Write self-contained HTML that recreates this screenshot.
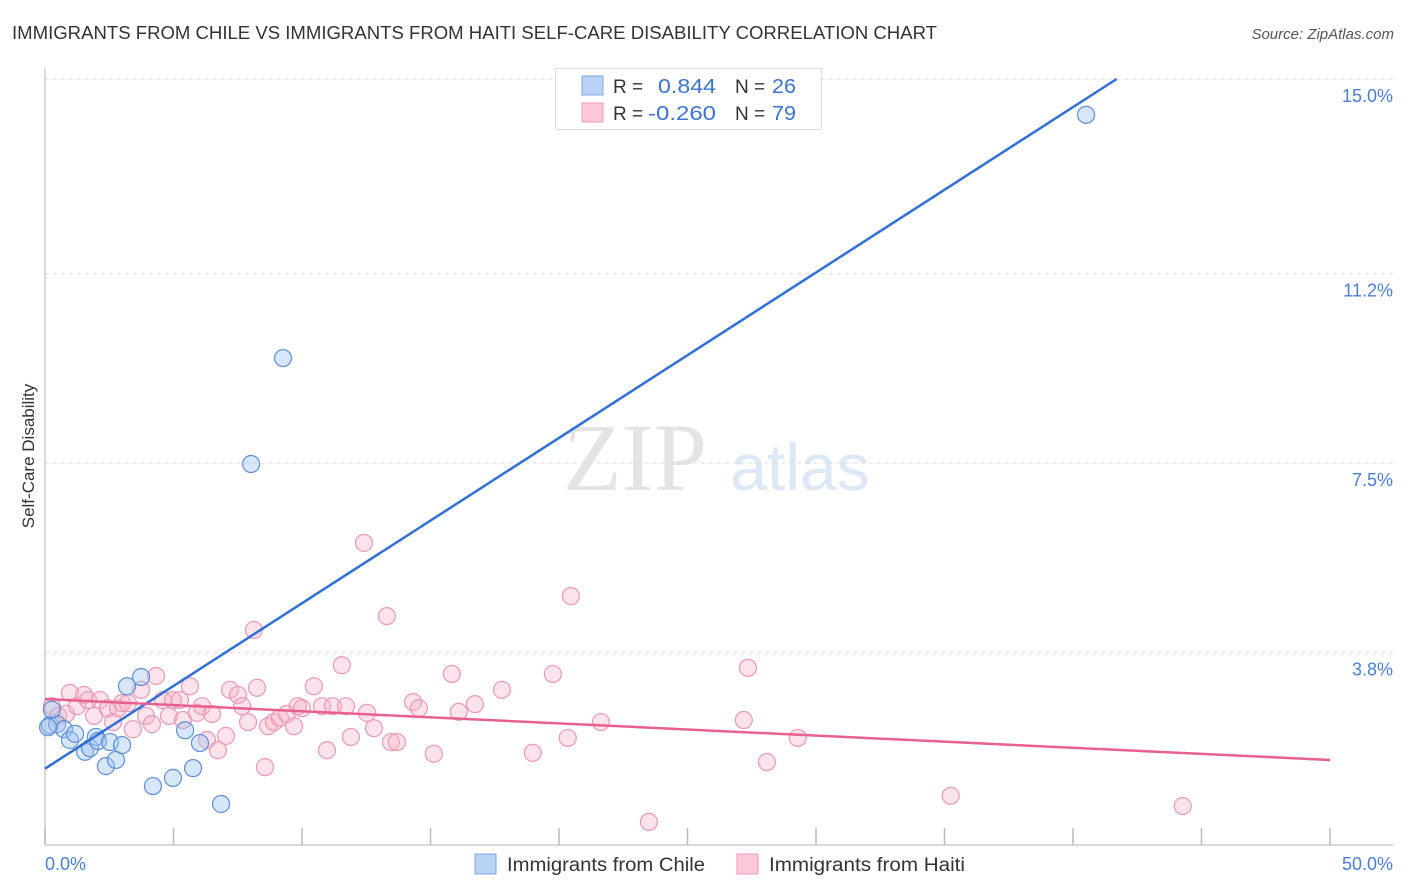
<!DOCTYPE html>
<html><head><meta charset="utf-8">
<style>
body{margin:0;background:#fff;font-family:"Liberation Sans",sans-serif;}
#wrap{position:relative;width:1406px;height:892px;overflow:hidden;}
</style></head>
<body>
<div id="wrap">
<svg id="chart" width="1406" height="892" xmlns="http://www.w3.org/2000/svg">
  <text x="12" y="39" font-size="18" fill="#333" textLength="925" lengthAdjust="spacingAndGlyphs">IMMIGRANTS FROM CHILE VS IMMIGRANTS FROM HAITI SELF-CARE DISABILITY CORRELATION CHART</text>
  <text x="1394" y="39" font-size="15" fill="#555" font-style="italic" text-anchor="end">Source: ZipAtlas.com</text>
  <text x="635" y="490" font-size="96" fill="#e4e4e4" font-family="Liberation Serif,serif" text-anchor="middle">ZIP</text>
  <text x="800" y="490" font-size="66" fill="#dce8f6" text-anchor="middle">atlas</text>
  <g id="grid"></g>
  <line x1="45" y1="68" x2="45" y2="845" stroke="#ccc" stroke-width="1.5"/>
  <line x1="45" y1="845" x2="1393" y2="845" stroke="#ccc" stroke-width="1.5"/>
  <g id="xticks"></g>
  <text x="45" y="870" font-size="18" fill="#4a7fd6">0.0%</text>
  <text x="1393" y="870" font-size="18" fill="#4a7fd6" text-anchor="end">50.0%</text>
  <text transform="translate(34,456) rotate(-90)" font-size="17" fill="#333" text-anchor="middle">Self-Care Disability</text>
  <g id="pink"></g>
  <g id="blue"></g>
  <g id="lines"></g>
  <g>
    <rect x="555.5" y="68.5" width="266" height="61" fill="#fff" stroke="#ddd"/>
    <rect x="582" y="76" width="21" height="19" fill="#b9d3f5" stroke="#7aa6e0"/>
    <rect x="582" y="103" width="21" height="19" fill="#fcc8d7" stroke="#ef9ab5"/>
    <text x="613" y="93" font-size="19" fill="#333">R =</text>
    <text x="658" y="93" font-size="20" fill="#3b73d1" textLength="58" lengthAdjust="spacingAndGlyphs">0.844</text>
    <text x="735" y="93" font-size="19" fill="#333">N =</text>
    <text x="772" y="93" font-size="20" fill="#3b73d1" textLength="24" lengthAdjust="spacingAndGlyphs">26</text>
    <text x="613" y="120" font-size="19" fill="#333">R =</text>
    <text x="648" y="120" font-size="20" fill="#3b73d1" textLength="68" lengthAdjust="spacingAndGlyphs">-0.260</text>
    <text x="735" y="120" font-size="19" fill="#333">N =</text>
    <text x="772" y="120" font-size="20" fill="#3b73d1" textLength="24" lengthAdjust="spacingAndGlyphs">79</text>
  </g>
  <g>
    <rect x="475" y="854" width="21" height="20" fill="#b9d3f5" stroke="#7aa6e0"/>
    <text x="507" y="871" font-size="19" fill="#333" textLength="198" lengthAdjust="spacingAndGlyphs">Immigrants from Chile</text>
    <rect x="737" y="854" width="21" height="20" fill="#fcc8d7" stroke="#ef9ab5"/>
    <text x="769" y="871" font-size="19" fill="#333" textLength="196" lengthAdjust="spacingAndGlyphs">Immigrants from Haiti</text>
  </g>
</svg>
</div>
<script>
const yTicks=[3.8,7.5,11.2,15.0];
const yTickLabels=["3.8%","7.5%","11.2%","15.0%"];
const xTicks=[0,5,10,15,20,25,30,35,40,45,50];
const chileX=[0.19,0.47,0.27,0.74,0.97,1.17,1.56,1.75,1.98,2.06,2.37,2.53,2.76,3.00,3.19,3.74,4.20,4.98,5.45,5.76,6.03,6.85,8.02,9.26,40.51,0.12];
const chileY=[2.38,2.40,2.68,2.30,2.09,2.21,1.86,1.93,2.15,2.07,1.58,2.05,1.70,1.99,3.14,3.32,1.19,1.35,2.28,1.54,2.03,0.84,7.48,9.55,14.30,2.34];
const haitiX=[0.27,0.51,0.82,0.97,1.25,1.52,1.67,1.91,2.14,2.45,2.65,2.84,3.00,3.23,3.42,3.74,3.93,4.16,4.32,4.59,4.82,4.98,5.25,5.37,5.64,5.91,6.11,6.30,6.50,6.73,7.04,7.20,7.51,7.67,7.90,8.13,8.25,8.56,8.68,8.91,9.14,9.41,9.69,9.84,10.00,10.46,10.78,10.97,11.20,11.55,11.71,11.90,12.41,12.53,12.80,13.30,13.46,13.69,14.32,14.55,15.13,15.83,16.10,16.73,17.78,18.98,19.76,20.34,20.46,21.63,23.50,27.19,27.35,28.09,29.29,35.24,44.27];
const haitiY=[2.75,2.56,2.60,3.01,2.75,2.97,2.87,2.56,2.87,2.71,2.44,2.71,2.81,2.81,2.30,3.07,2.56,2.40,3.34,2.87,2.56,2.87,2.87,2.48,3.14,2.62,2.75,2.09,2.60,1.89,2.17,3.07,2.97,2.75,2.44,4.24,3.11,1.56,2.36,2.44,2.52,2.60,2.36,2.75,2.71,3.14,2.75,1.89,2.75,3.55,2.75,2.15,5.94,2.62,2.32,4.51,2.05,2.05,2.83,2.71,1.82,3.38,2.64,2.79,3.07,1.84,3.38,2.13,4.90,2.44,0.49,2.48,3.50,1.66,2.13,1.00,0.80];
const chileTrend=[[0,1.53],[41.7,15.0]];
const haitiTrend=[[0,2.89],[50,1.70]];

const NS="http://www.w3.org/2000/svg";
function sx(v){return 45+v*(1285/50);}
function sy(v){return 847-v*(192/3.75);}
function mk(tag,attrs,parent){const e=document.createElementNS(NS,tag);for(const k in attrs)e.setAttribute(k,attrs[k]);parent.appendChild(e);return e;}
const grid=document.getElementById('grid');
yTicks.forEach((t,i)=>{
  const l=mk('line',{x1:45,x2:1393,y1:sy(t),y2:sy(t),stroke:'#ddd','stroke-dasharray':'4,4'},grid);
  
  
  const tx=mk('text',{x:1393,y:sy(t)+23,'font-size':18,fill:'#4a7fd6','text-anchor':'end'},grid);
  tx.textContent=yTickLabels[i];
  
  
});
const xt=document.getElementById('xticks');
xTicks.forEach(t=>{
  const l=mk('line',{x1:sx(t),x2:sx(t),y1:828,y2:845,stroke:'#bbb','stroke-width':1.5},xt);
  
  
});
const pg=document.getElementById('pink');
haitiX.forEach((x,i)=>{
  const c=mk('circle',{cx:sx(x),cy:sy(haitiY[i]),r:8.5,fill:'rgba(248,180,200,0.38)',stroke:'#eb98b3','stroke-width':1.2},pg);
  
  
});
const bg=document.getElementById('blue');
chileX.forEach((x,i)=>{
  const c=mk('circle',{cx:sx(x),cy:sy(chileY[i]),r:8.5,fill:'rgba(160,196,240,0.42)',stroke:'#5e8fd8','stroke-width':1.2},bg);
  
  
});
const lg=document.getElementById('lines');
const bl=mk('line',{x1:sx(chileTrend[0][0]),y1:sy(chileTrend[0][1]),x2:sx(chileTrend[1][0]),y2:sy(chileTrend[1][1]),stroke:'#2f6fd6','stroke-width':2.5},lg);


const pl=mk('line',{x1:sx(haitiTrend[0][0]),y1:sy(haitiTrend[0][1]),x2:sx(haitiTrend[1][0]),y2:sy(haitiTrend[1][1]),stroke:'#e8608e','stroke-width':2.5},lg);


</script>
</body></html>
